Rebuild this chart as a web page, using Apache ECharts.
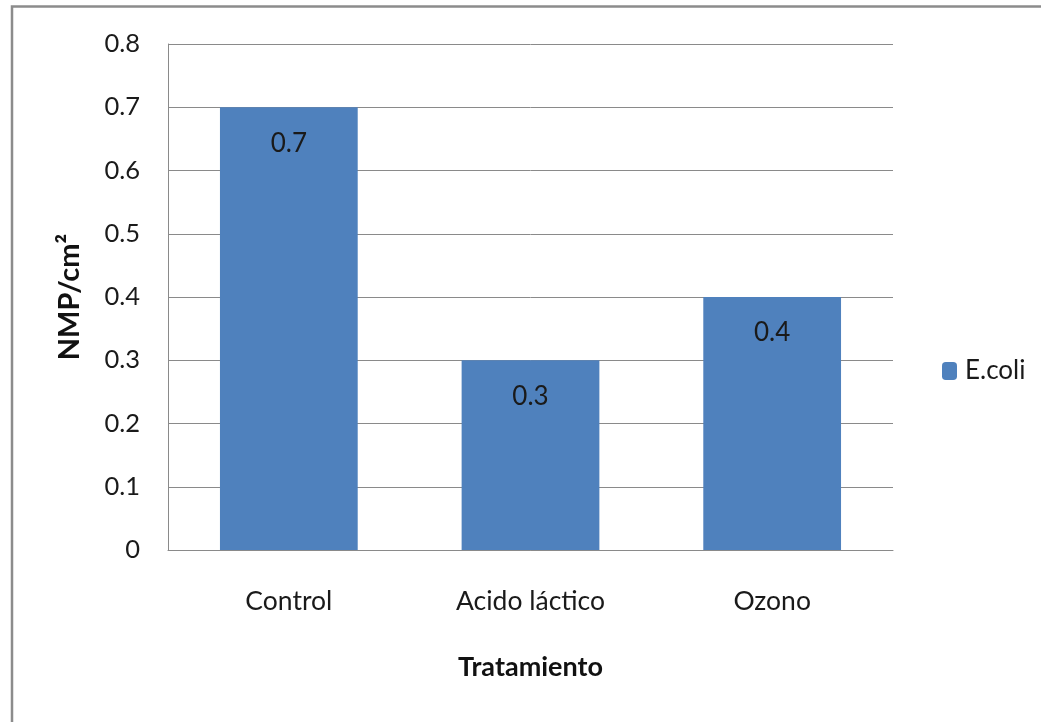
<!DOCTYPE html>
<html>
<head>
<meta charset="utf-8">
<script src="https://cdn.jsdelivr.net/npm/echarts@6/dist/echarts.min.js"></script>
<style>
  html, body { margin: 0; padding: 0; background: #fff; }
  #chart { width: 1041px; height: 722px; }
</style>
</head>
<body>
<div id="chart"></div>
<script>
// Treatments and E. coli counts (NMP/cm²)
const categories = ['Control', 'Acido láctico', 'Ozono'];
const ecoli = [0.7, 0.3, 0.4];
const seriesName = 'E.coli';
const yTicks = { min: 0, max: 0.8, interval: 0.1 };

const FONT = 'Lato, "Liberation Sans", sans-serif';
const GRID_COLOR = '#8a8a8a';

const chart = echarts.init(document.getElementById('chart'), null, { renderer: 'canvas' });

chart.setOption({
  backgroundColor: '#ffffff',
  animation: false,
  textStyle: { fontFamily: FONT },
  grid: { left: 168, right: 148, top: 44, bottom: 172, containLabel: false },
  legend: {
    data: [seriesName],
    left: 942,
    top: 358,
    padding: 0,
    orient: 'vertical',
    itemWidth: 15,
    itemHeight: 18,
    itemGap: 6,
    textStyle: { fontFamily: FONT, fontSize: 26, color: '#1a1a1a', padding: [0, 0, 0, 3] }
  },
  xAxis: {
    type: 'category',
    data: categories,
    name: 'Tratamiento',
    nameLocation: 'middle',
    nameGap: 104,
    nameTextStyle: { fontFamily: FONT, fontSize: 27, fontWeight: 'bold', color: '#111' },
    axisLine: { lineStyle: { color: GRID_COLOR, width: 1 } },
    axisTick: { show: false },
    axisLabel: { fontFamily: FONT, fontSize: 26.5, color: '#1a1a1a', margin: 38 }
  },
  yAxis: {
    type: 'value',
    min: yTicks.min,
    max: yTicks.max,
    interval: yTicks.interval,
    name: 'NMP/cm²',
    nameLocation: 'middle',
    nameGap: 84,
    nameTextStyle: { fontFamily: FONT, fontSize: 29, fontWeight: 'bold', color: '#111' },
    axisLine: { show: true, lineStyle: { color: GRID_COLOR, width: 1 } },
    axisTick: { show: false },
    splitLine: { lineStyle: { color: GRID_COLOR, width: 1 } },
    axisLabel: {
      fontFamily: FONT, fontSize: 25.5, color: '#1a1a1a', margin: 28,
      formatter: v => (v === 0 ? '0' : v.toFixed(1))
    }
  },
  series: [{
    name: seriesName,
    type: 'bar',
    data: ecoli,
    barWidth: '57%',
    itemStyle: { color: '#4f81bd' },
    label: {
      show: true,
      position: 'insideTop',
      distance: 23,
      fontFamily: FONT,
      fontSize: 26,
      color: '#1a1a1a',
      formatter: p => p.value.toFixed(1)
    }
  }],
  graphic: [{
    type: 'polyline',
    silent: true,
    shape: { points: [[12, 740], [12, 6.5], [1060, 6.5]] },
    style: { stroke: '#8c8c8c', lineWidth: 2.5, fill: null }
  }]
});
</script>
</body>
</html>
